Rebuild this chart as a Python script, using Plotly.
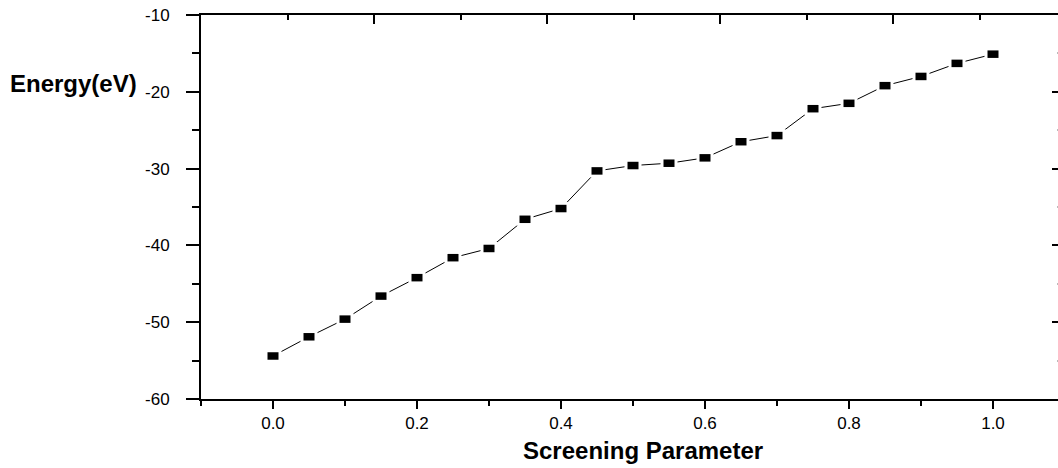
import plotly.graph_objects as go

# Data
screening = [0.0, 0.05, 0.10, 0.15, 0.20, 0.25, 0.30, 0.35, 0.40, 0.45, 0.50,
             0.55, 0.60, 0.65, 0.70, 0.75, 0.80, 0.85, 0.90, 0.95, 1.0]
energy = [-54.4, -51.9, -49.6, -46.6, -44.2, -41.6, -40.4, -36.6, -35.2, -30.3, -29.6,
          -29.3, -28.6, -26.5, -25.7, -22.2, -21.5, -19.2, -18.0, -16.3, -15.1]

x_ticks = [0.0, 0.2, 0.4, 0.6, 0.8, 1.0]
x_labels = ["0.0", "0.2", "0.4", "0.6", "0.8", "1.0"]
y_ticks = [-60, -50, -40, -30, -20, -10]
y_labels = ["-60", "-50", "-40", "-30", "-20", "-10"]

W, H = 1058, 468
L, R, T, B = 201, 0, 15, 69
PX_PER_X = 720.0
x_lo = -0.1
x_hi = x_lo + (W - L - R) / PX_PER_X  # plot extends past right edge like reference
FONT = "Liberation Sans, Arial, sans-serif"

fig = go.Figure()
fig.add_trace(go.Scatter(x=screening, y=energy, mode="lines",
                         line=dict(color="black", width=1), showlegend=False,
                         hoverinfo="skip"))
# white gap around each marker (rectangular markers drawn as thick error bars)
fig.add_trace(go.Scatter(x=screening, y=energy, mode="markers",
                         marker=dict(size=1, opacity=0),
                         error_x=dict(type="constant", value=8.5 / PX_PER_X,
                                      thickness=13, width=0, color="white"),
                         showlegend=False, hoverinfo="skip"))
fig.add_trace(go.Scatter(x=screening, y=energy, mode="markers",
                         marker=dict(size=1, opacity=0),
                         error_x=dict(type="constant", value=5.5 / PX_PER_X,
                                      thickness=7.5, width=0, color="black"),
                         showlegend=False))
# anchor trace for mirrored (top/right) axes
fig.add_trace(go.Scatter(x=[None], y=[None], xaxis="x2", yaxis="y2",
                         showlegend=False, hoverinfo="skip"))

fig.update_layout(
    width=W, height=H,
    margin=dict(l=L, r=R, t=T, b=B, pad=0),
    paper_bgcolor="white", plot_bgcolor="white",
    font=dict(family=FONT, size=17, color="black"),
    xaxis=dict(range=[x_lo, x_hi], tickvals=x_ticks, ticktext=x_labels,
               ticks="outside", ticklen=8, tickwidth=2, tickcolor="black",
               minor=dict(tickvals=[-0.1, 0.1, 0.3, 0.5, 0.7, 0.9], ticks="outside",
                          ticklen=5, tickwidth=2, tickcolor="black"),
               showline=True, linewidth=2, linecolor="black",
               showgrid=False, zeroline=False, ticklabelstandoff=0,
               tickfont=dict(size=17)),
    yaxis=dict(range=[-60, -10], tickvals=y_ticks, ticktext=y_labels,
               ticks="outside", ticklen=13, tickwidth=2, tickcolor="black",
               minor=dict(tickvals=[-55, -45, -35, -25, -15], ticks="outside",
                          ticklen=7, tickwidth=2, tickcolor="black"),
               showline=True, linewidth=2, linecolor="black",
               showgrid=False, zeroline=False, ticklabelstandoff=13,
               tickfont=dict(size=17)),
    xaxis2=dict(overlaying="x", side="top", anchor="y",
                range=[0, 5 * (W - L - R) / 865.0], tick0=0, dtick=1,
                ticks="inside", ticklen=9, tickwidth=2, tickcolor="black",
                minor=dict(dtick=0.5, ticks="inside", ticklen=5, tickwidth=2,
                           tickcolor="black"),
                showticklabels=False, showline=True, linewidth=2,
                linecolor="black", showgrid=False, zeroline=False),
    yaxis2=dict(overlaying="y", side="right", anchor="x",
                range=[-60, -10], tick0=-60, dtick=10,
                ticks="inside", ticklen=6, tickwidth=2, tickcolor="black",
                minor=dict(dtick=5, ticks="inside", ticklen=1, tickwidth=2,
                           tickcolor="#bbbbbb"),
                showticklabels=False, showline=False,
                showgrid=False, zeroline=False),
    annotations=[
        dict(text="<b>Energy(eV)</b>", xref="paper", yref="paper",
             x=(8 - L) / (W - L - R), y=(H - B - 83) / (H - T - B),
             xanchor="left", yanchor="middle", showarrow=False,
             font=dict(family=FONT, size=24, color="black")),
        dict(text="<b>Screening Parameter</b>", xref="paper", yref="paper",
             x=(642.5 - L) / (W - L - R), y=(H - B - 450) / (H - T - B),
             xanchor="center", yanchor="middle", showarrow=False,
             font=dict(family=FONT, size=24, color="black")),
    ],
)

fig.write_html("out.html", config={"displayModeBar": False},
               post_script="document.body.style.margin='0';"
                           "document.body.style.overflow='hidden';")
